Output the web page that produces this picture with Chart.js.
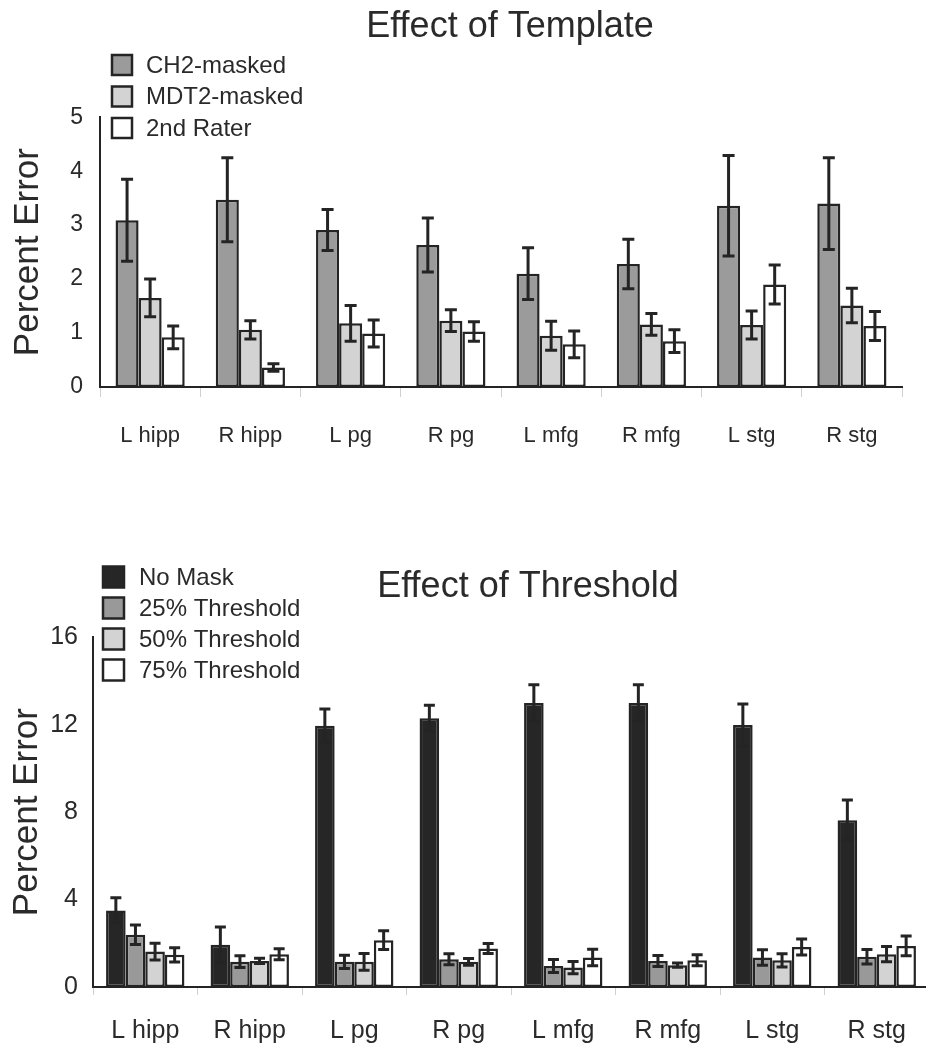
<!DOCTYPE html>
<html>
<head>
<meta charset="utf-8">
<script src="https://cdn.jsdelivr.net/npm/chart.js@4.4.0/dist/chart.umd.min.js"></script>
<style>
  html, body { margin: 0; padding: 0; background: #fff; overflow: hidden; width: 926px; height: 1046px; }
  #templateChart { position: absolute; left: 0; top: 0; }
  #thresholdChart { position: absolute; left: 0; top: 520px; }
</style>
</head>
<body>
<canvas id="templateChart" width="1020" height="474"></canvas>
<canvas id="thresholdChart" width="1056" height="526"></canvas>
<script>
        const regions = ['L hipp', 'R hipp', 'L pg', 'R pg', 'L mfg', 'R mfg', 'L stg', 'R stg'];

        // Effect of Template
        const templateNames = ['CH2-masked', 'MDT2-masked', '2nd Rater'];
        const ch2Masked = [3.09, 3.47, 2.91, 2.63, 2.10, 2.28, 3.36, 3.40];
        const ch2MaskedErr = [0.76, 0.78, 0.38, 0.50, 0.48, 0.46, 0.93, 0.85];
        const mdt2Masked = [1.65, 1.06, 1.18, 1.23, 0.95, 1.16, 1.15, 1.51];
        const mdt2MaskedErr = [0.35, 0.17, 0.33, 0.20, 0.27, 0.20, 0.26, 0.32];
        const secondRater = [0.92, 0.36, 0.99, 1.03, 0.79, 0.85, 1.90, 1.13];
        const secondRaterErr = [0.21, 0.07, 0.25, 0.18, 0.25, 0.21, 0.36, 0.27];

        // Effect of Threshold
        const thresholdNames = ['No Mask', '25% Threshold', '50% Threshold', '75% Threshold'];
        const noMask = [3.50, 1.93, 11.95, 12.29, 12.99, 12.99, 11.98, 7.63];
        const noMaskErr = [0.58, 0.82, 0.77, 0.60, 0.84, 0.84, 0.97, 0.92];
        const thresh25 = [2.39, 1.16, 1.15, 1.27, 0.96, 1.19, 1.35, 1.38];
        const thresh25Err = [0.45, 0.27, 0.30, 0.25, 0.30, 0.25, 0.35, 0.33];
        const thresh50 = [1.62, 1.19, 1.15, 1.15, 0.89, 1.00, 1.22, 1.50];
        const thresh50Err = [0.38, 0.12, 0.38, 0.15, 0.28, 0.10, 0.30, 0.35];
        const thresh75 = [1.47, 1.50, 2.14, 1.76, 1.35, 1.22, 1.83, 1.88];
        const thresh75Err = [0.33, 0.25, 0.43, 0.23, 0.38, 0.25, 0.37, 0.45];

        const fontFamily = '"Liberation Sans", Arial, Helvetica, sans-serif';
        const ink = '#2a2a2a';
        const edge = '#242424';

        Chart.defaults.font.family = fontFamily;
        Chart.defaults.color = ink;

        // vertical error bars, drawn from each dataset's errors array
        const errorBars = {
            id: 'errorBars',
            afterDatasetsDraw(chart, args, opts) {
                const ctx = chart.ctx;
                const yScale = chart.scales.y;
                ctx.save();
                ctx.strokeStyle = edge;
                ctx.lineWidth = opts.lineWidth;
                chart.data.datasets.forEach((ds, i) => {
                    chart.getDatasetMeta(i).data.forEach((bar, j) => {
                        const v = ds.data[j];
                        const e = ds.errors[j];
                        const yTop = yScale.getPixelForValue(v + e);
                        const yBot = yScale.getPixelForValue(v - e);
                        const half = opts.capWidth / 2;
                        ctx.beginPath();
                        ctx.moveTo(bar.x, yTop);
                        ctx.lineTo(bar.x, yBot);
                        ctx.moveTo(bar.x - half, yTop);
                        ctx.lineTo(bar.x + half, yTop);
                        ctx.moveTo(bar.x - half, yBot);
                        ctx.lineTo(bar.x + half, yBot);
                        ctx.stroke();
                    });
                });
                ctx.restore();
            }
        };

        // stacked legend with square swatches
        const boxLegend = {
            id: 'boxLegend',
            afterDraw(chart, args, opts) {
                const ctx = chart.ctx;
                ctx.save();
                ctx.font = opts.fontSize + 'px ' + fontFamily;
                ctx.textBaseline = 'middle';
                chart.data.datasets.forEach((ds, i) => {
                    const cy = opts.top + i * opts.step;
                    const s = opts.box;
                    ctx.fillStyle = ds.backgroundColor;
                    ctx.fillRect(opts.left, cy - s / 2, s, s);
                    ctx.lineWidth = 2.5;
                    ctx.strokeStyle = edge;
                    ctx.strokeRect(opts.left, cy - s / 2, s, s);
                    ctx.fillStyle = ink;
                    ctx.fillText(ds.label, opts.textLeft, cy + 1);
                });
                ctx.restore();
            }
        };

        function barSet(label, data, errors, color) {
            return {
                label: label,
                data: data,
                errors: errors,
                backgroundColor: color,
                borderColor: edge,
                borderWidth: 2.5,
                borderSkipped: false
            };
        }

        // empty axis on the right, only to keep room so the title centres where it should
        function spacerAxis(width) {
            return {
                type: 'linear',
                position: 'right',
                display: true,
                grid: { display: false, drawTicks: false },
                border: { display: false },
                ticks: { display: false },
                afterFit(scale) { scale.width = width; }
            };
        }

        new Chart(document.getElementById('templateChart'), {
            type: 'bar',
            data: {
                labels: regions,
                datasets: [
                    barSet(templateNames[0], ch2Masked, ch2MaskedErr, '#9b9b9b'),
                    barSet(templateNames[1], mdt2Masked, mdt2MaskedErr, '#d3d3d3'),
                    barSet(templateNames[2], secondRater, secondRaterErr, '#ffffff')
                ]
            },
            options: {
                responsive: false,
                animation: false,
                categoryPercentage: 0.69,
                barPercentage: 1.0,
                layout: { padding: 0 },
                plugins: {
                    legend: { display: false },
                    tooltip: { enabled: false },
                    title: {
                        display: true,
                        text: 'Effect of Template',
                        color: ink,
                        font: { size: 36, weight: 'normal' },
                        padding: { top: 5, bottom: 69 }
                    },
                    errorBars: { lineWidth: 3, capWidth: 12 },
                    boxLegend: { left: 112, top: 65, step: 31.5, box: 20, textLeft: 146, fontSize: 24 }
                },
                scales: {
                    x: {
                        grid: { display: true, drawOnChartArea: false, tickLength: 10, color: '#d0d0d0' },
                        border: { display: true, color: edge, width: 2 },
                        ticks: { font: { size: 22 }, padding: 26, color: ink },
                        afterFit(scale) { scale.height = 87; }
                    },
                    y: {
                        min: 0,
                        max: 5,
                        grid: { display: false, drawTicks: false },
                        border: { display: true, color: edge, width: 2 },
                        ticks: { stepSize: 1, font: { size: 23 }, padding: 17, color: ink },
                        title: {
                            display: true,
                            text: 'Percent Error',
                            color: ink,
                            font: { size: 35 },
                            padding: { top: 7, bottom: 0 }
                        },
                        afterFit(scale) { scale.width = 100; }
                    },
                    yRight: spacerAxis(118)
                }
            },
            plugins: [errorBars, boxLegend]
        });

        new Chart(document.getElementById('thresholdChart'), {
            type: 'bar',
            data: {
                labels: regions,
                datasets: [
                    barSet(thresholdNames[0], noMask, noMaskErr, '#262626'),
                    barSet(thresholdNames[1], thresh25, thresh25Err, '#999999'),
                    barSet(thresholdNames[2], thresh50, thresh50Err, '#d3d3d3'),
                    barSet(thresholdNames[3], thresh75, thresh75Err, '#ffffff')
                ]
            },
            options: {
                responsive: false,
                animation: false,
                categoryPercentage: 0.75,
                barPercentage: 1.0,
                layout: { padding: 0 },
                plugins: {
                    legend: { display: false },
                    tooltip: { enabled: false },
                    title: {
                        display: true,
                        text: 'Effect of Threshold',
                        color: ink,
                        font: { size: 36, weight: 'normal' },
                        padding: { top: 45, bottom: 29 }
                    },
                    errorBars: { lineWidth: 3, capWidth: 11 },
                    boxLegend: { left: 103, top: 57, step: 31, box: 21, textLeft: 139, fontSize: 24 }
                },
                scales: {
                    x: {
                        grid: { display: true, drawOnChartArea: false, tickLength: 8, color: '#d0d0d0' },
                        border: { display: true, color: edge, width: 2 },
                        ticks: { font: { size: 25 }, padding: 21, color: ink },
                        afterFit(scale) { scale.height = 59; }
                    },
                    y: {
                        min: 0,
                        max: 16,
                        grid: { display: false, drawTicks: false },
                        border: { display: true, color: edge, width: 2 },
                        ticks: { stepSize: 4, font: { size: 25 }, padding: 15, color: ink },
                        title: {
                            display: true,
                            text: 'Percent Error',
                            color: ink,
                            font: { size: 35 },
                            padding: { top: 6, bottom: 0 }
                        },
                        afterFit(scale) { scale.width = 93; }
                    },
                    yRight: spacerAxis(127)
                }
            },
            plugins: [errorBars, boxLegend]
        });
</script>
</body>
</html>
